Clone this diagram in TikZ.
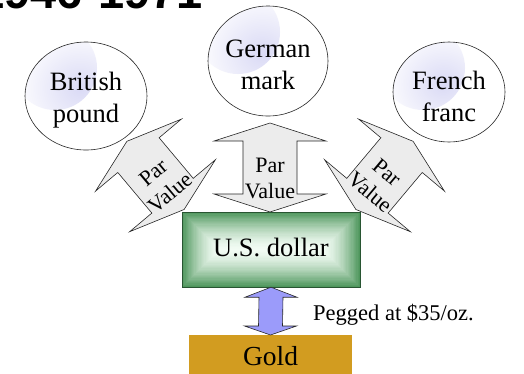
\documentclass[tikz,border=0pt]{standalone}
\usepackage{fontspec}
\setmainfont{Liberation Serif}
\newfontfamily\titlefont{Liberation Sans}
\usetikzlibrary{shapes.geometric,calc}
\definecolor{arrowgray}{RGB}{236,236,236}
\definecolor{lav}{RGB}{218,218,245}
\definecolor{dgreen}{RGB}{78,150,92}
\definecolor{mint}{RGB}{242,252,244}
\definecolor{gborder}{RGB}{40,85,50}
\definecolor{goldc}{RGB}{210,156,32}
\definecolor{pegblue}{RGB}{155,155,250}
\tikzset{
  currency/.style={ellipse, draw=black!85, line width=0.6pt, fill=white, inner sep=0pt,
    path picture={\shade[inner color=lav, outer color=white]
      ([xshift=30pt,yshift=-26pt]path picture bounding box.north west) circle (42pt);}},
  curtext/.style={align=center, font=\fontsize{26.5}{32}\selectfont, inner sep=0pt},
  partext/.style={align=center, font=\fontsize{22}{26}\selectfont, inner sep=0pt},
  boxtext/.style={font=\fontsize{26.5}{30}\selectfont, inner sep=0pt, anchor=base},
  blockarrow/.style={draw=black!85, line width=0.6pt, fill=arrowgray, line join=miter},
  pics/pvarrow/.style={code={
    \draw[blockarrow] (0,-44.5) -- (56,-26.5) -- (27,-26.5) -- (27,26.5) -- (56,26.5)
      -- (0,44.5) -- (-56,26.5) -- (-27,26.5) -- (-27,-26.5) -- (-56,-26.5) -- cycle;}}
}
\begin{document}
\begin{tikzpicture}[x=1pt,y=-1pt]
\useasboundingbox (0,0) rectangle (524,373);
% title (cut at top)
\node[anchor=base west, inner sep=0pt, font=\titlefont\bfseries\fontsize{47}{54}\selectfont] (title) at (-22,8) {1946-1971};
% currency circles
\node[currency, minimum width=122, minimum height=108] (gbp) at (86,96) {};
\node[curtext] (gbpt) at (86,100) {British\\pound};
\node[currency, minimum width=120, minimum height=110] (dem) at (268,61) {};
\node[curtext] (demt) at (268,65) {German\\mark};
\node[currency, minimum width=112, minimum height=100] (frf) at (449,92) {};
\node[curtext] (frft) at (449,96.5) {French\\franc};
% par value arrows
\pic[rotate=40] at (155.5,175.4) {pvarrow};
\pic at (270,167.5) {pvarrow};
\pic[rotate=-40] at (384.5,175.4) {pvarrow};
\node[partext, rotate=40] (pv1) at (161.6,182.7) {Par\\Value};
\node[partext] (pv2) at (270,178) {Par\\Value};
\node[partext, rotate=-40] (pv3) at (378.4,182.7) {Par\\Value};
% US dollar box
\node[rectangle, minimum width=178, minimum height=75, fill=dgreen, inner sep=0pt] (usd) at (271,249.5) {};
\foreach \i in {1,...,30}{
  \pgfmathsetmacro\p{100*(1-\i/30)^1.6}
  \fill[dgreen!\p!mint] ($(usd.north west)+(\i*1.25,\i*1.25)$) rectangle ($(usd.south east)+(-\i*1.25,-\i*1.25)$);
}
\draw[gborder, line width=0.6pt] (usd.north west) rectangle (usd.south east);
\node[boxtext] (usdt) at (271,256) {U.S. dollar};
% gold box
\node[rectangle, minimum width=163, minimum height=50, fill=goldc, inner sep=0pt, anchor=north] (gold) at (270.5,335) {};
\node[boxtext, font=\fontsize{27.5}{31}\selectfont] (goldt) at (270.5,365) {Gold};
% pegged arrow
\draw[fill=pegblue, draw=black!85, line width=0.6pt]
  (usd.south) -- ($(usd.south)+(26,10)$) -- ($(usd.south)+(12,10)$) -- ($(gold.north)+(12,-9)$)
  -- ($(gold.north)+(26,-9)$) -- (gold.north) -- ($(gold.north)+(-26,-9)$) -- ($(gold.north)+(-12,-9)$)
  -- ($(usd.south)+(-12,10)$) -- ($(usd.south)+(-26,10)$) -- cycle;
\node[anchor=base west, inner sep=0pt, font=\fontsize{22.5}{27}\selectfont] (peg) at (313,320) {Pegged at \$35/oz.};
\end{tikzpicture}
\end{document}
